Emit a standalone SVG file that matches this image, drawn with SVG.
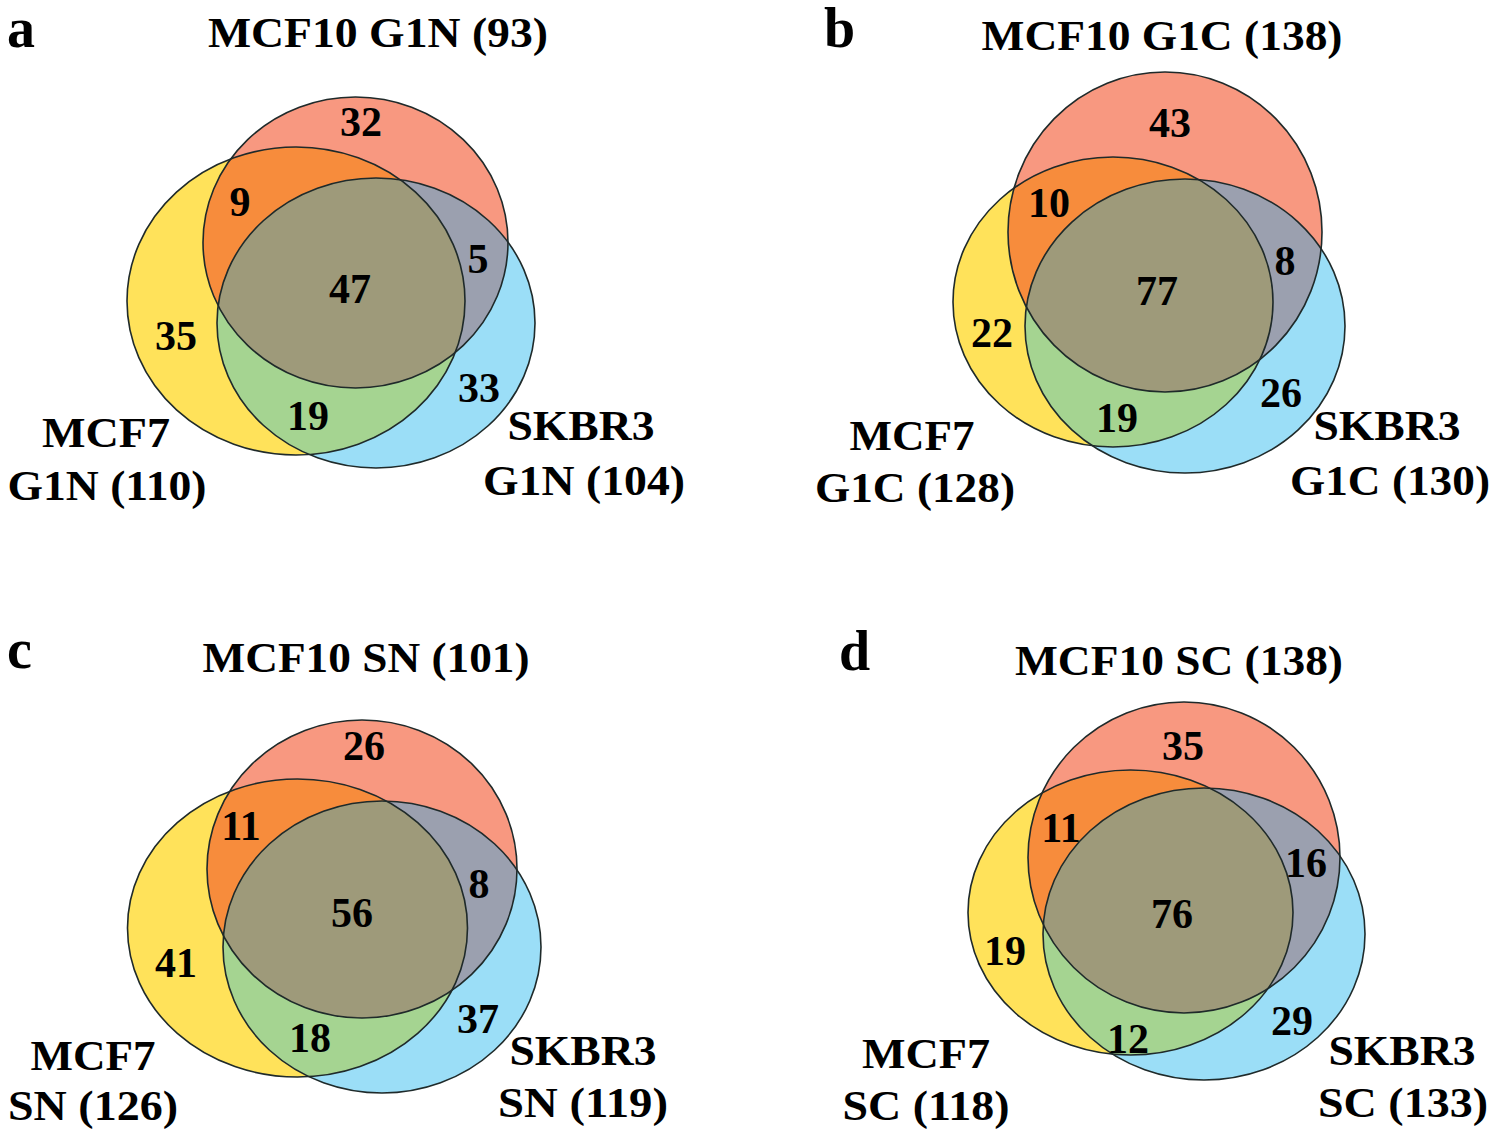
<svg xmlns="http://www.w3.org/2000/svg" width="1500" height="1142" viewBox="0 0 1500 1142">
<style>
.fy{fill:#FFE25A}.fr{fill:#F89880}.fb{fill:#9BDEF7}
.fo{fill:#F78C3C}.fg{fill:#A5D491}.fgr{fill:#9BA0AF}.fc{fill:#9E9A7A}
.ol{fill:none;stroke:#1f2a2a;stroke-width:1.6}
text{font-family:"Liberation Serif","Times New Roman",serif;font-weight:bold;fill:#000;text-anchor:middle}
.n{font-size:42px}.t{font-size:42px}.p{font-size:56px;text-anchor:start}
</style>
<defs>
<ellipse id="aR" cx="355.5" cy="242.5" rx="152.5" ry="145.5"/>
<ellipse id="aY" cx="296" cy="301" rx="169" ry="154"/>
<ellipse id="aB" cx="376" cy="323" rx="159" ry="145"/>
<ellipse id="bR" cx="1165" cy="232" rx="157" ry="160"/>
<ellipse id="bY" cx="1113" cy="302" rx="160" ry="145"/>
<ellipse id="bB" cx="1185" cy="326" rx="160" ry="147"/>
<ellipse id="cR" cx="362" cy="869" rx="155" ry="149"/>
<ellipse id="cY" cx="297.5" cy="928" rx="170" ry="149"/>
<ellipse id="cB" cx="382" cy="947" rx="159" ry="146"/>
<ellipse id="dR" cx="1184" cy="857.5" rx="156" ry="155.5"/>
<ellipse id="dY" cx="1130.5" cy="912.5" rx="162.5" ry="142.5"/>
<ellipse id="dB" cx="1204" cy="934" rx="161" ry="146"/>
<clipPath id="aCR"><use href="#aR"/></clipPath><clipPath id="aCB"><use href="#aB"/></clipPath>
<clipPath id="bCR"><use href="#bR"/></clipPath><clipPath id="bCB"><use href="#bB"/></clipPath>
<clipPath id="cCR"><use href="#cR"/></clipPath><clipPath id="cCB"><use href="#cB"/></clipPath>
<clipPath id="dCR"><use href="#dR"/></clipPath><clipPath id="dCB"><use href="#dB"/></clipPath>
</defs>
<rect width="1500" height="1142" fill="#fff"/>

<g id="panel-a">
<g id="a-circles">
<use href="#aY" class="fy"/><use href="#aR" class="fr"/><use href="#aB" class="fb"/>
<g clip-path="url(#aCR)"><use href="#aY" class="fo"/></g>
<g clip-path="url(#aCB)"><use href="#aY" class="fg"/></g>
<g clip-path="url(#aCB)"><use href="#aR" class="fgr"/></g>
<g clip-path="url(#aCB)"><g clip-path="url(#aCR)"><use href="#aY" class="fc"/></g></g>
<use href="#aY" class="ol"/><use href="#aR" class="ol"/><use href="#aB" class="ol"/>
</g>
<text class="p" x="7" y="47">a</text>
<text class="t" x="378" y="47" textLength="340" lengthAdjust="spacingAndGlyphs">MCF10 G1N (93)</text>
<text class="n" x="361" y="136">32</text>
<text class="n" x="240" y="216">9</text>
<text class="n" x="478" y="273">5</text>
<text class="n" x="350" y="303">47</text>
<text class="n" x="176" y="350">35</text>
<text class="n" x="308" y="430">19</text>
<text class="n" x="479" y="402">33</text>
<text class="t" x="106" y="447" textLength="128" lengthAdjust="spacingAndGlyphs">MCF7</text>
<text class="t" x="107" y="500" textLength="199" lengthAdjust="spacingAndGlyphs">G1N (110)</text>
<text class="t" x="581" y="440" textLength="147" lengthAdjust="spacingAndGlyphs">SKBR3</text>
<text class="t" x="584" y="495" textLength="202" lengthAdjust="spacingAndGlyphs">G1N (104)</text>
</g>

<g id="panel-b">
<g id="b-circles">
<use href="#bY" class="fy"/><use href="#bR" class="fr"/><use href="#bB" class="fb"/>
<g clip-path="url(#bCR)"><use href="#bY" class="fo"/></g>
<g clip-path="url(#bCB)"><use href="#bY" class="fg"/></g>
<g clip-path="url(#bCB)"><use href="#bR" class="fgr"/></g>
<g clip-path="url(#bCB)"><g clip-path="url(#bCR)"><use href="#bY" class="fc"/></g></g>
<use href="#bY" class="ol"/><use href="#bR" class="ol"/><use href="#bB" class="ol"/>
</g>
<text class="p" x="824" y="47">b</text>
<text class="t" x="1162" y="50" textLength="361" lengthAdjust="spacingAndGlyphs">MCF10 G1C (138)</text>
<text class="n" x="1170" y="137">43</text>
<text class="n" x="1049" y="217">10</text>
<text class="n" x="1285" y="275">8</text>
<text class="n" x="1157" y="305">77</text>
<text class="n" x="992" y="347">22</text>
<text class="n" x="1117" y="432">19</text>
<text class="n" x="1281" y="407">26</text>
<text class="t" x="912" y="450" textLength="125" lengthAdjust="spacingAndGlyphs">MCF7</text>
<text class="t" x="915" y="502" textLength="200" lengthAdjust="spacingAndGlyphs">G1C (128)</text>
<text class="t" x="1387" y="440" textLength="147" lengthAdjust="spacingAndGlyphs">SKBR3</text>
<text class="t" x="1390" y="495" textLength="200" lengthAdjust="spacingAndGlyphs">G1C (130)</text>
</g>

<g id="panel-c">
<g id="c-circles">
<use href="#cY" class="fy"/><use href="#cR" class="fr"/><use href="#cB" class="fb"/>
<g clip-path="url(#cCR)"><use href="#cY" class="fo"/></g>
<g clip-path="url(#cCB)"><use href="#cY" class="fg"/></g>
<g clip-path="url(#cCB)"><use href="#cR" class="fgr"/></g>
<g clip-path="url(#cCB)"><g clip-path="url(#cCR)"><use href="#cY" class="fc"/></g></g>
<use href="#cY" class="ol"/><use href="#cR" class="ol"/><use href="#cB" class="ol"/>
</g>
<text class="p" x="7" y="668">c</text>
<text class="t" x="366" y="672" textLength="327" lengthAdjust="spacingAndGlyphs">MCF10 SN (101)</text>
<text class="n" x="364" y="760">26</text>
<text class="n" x="241" y="840">11</text>
<text class="n" x="479" y="898">8</text>
<text class="n" x="352" y="927">56</text>
<text class="n" x="176" y="977">41</text>
<text class="n" x="310" y="1052">18</text>
<text class="n" x="478" y="1033">37</text>
<text class="t" x="93" y="1070" textLength="125" lengthAdjust="spacingAndGlyphs">MCF7</text>
<text class="t" x="93" y="1120" textLength="170" lengthAdjust="spacingAndGlyphs">SN (126)</text>
<text class="t" x="583" y="1065" textLength="147" lengthAdjust="spacingAndGlyphs">SKBR3</text>
<text class="t" x="583" y="1117" textLength="170" lengthAdjust="spacingAndGlyphs">SN (119)</text>
</g>

<g id="panel-d">
<g id="d-circles">
<use href="#dY" class="fy"/><use href="#dR" class="fr"/><use href="#dB" class="fb"/>
<g clip-path="url(#dCR)"><use href="#dY" class="fo"/></g>
<g clip-path="url(#dCB)"><use href="#dY" class="fg"/></g>
<g clip-path="url(#dCB)"><use href="#dR" class="fgr"/></g>
<g clip-path="url(#dCB)"><g clip-path="url(#dCR)"><use href="#dY" class="fc"/></g></g>
<use href="#dY" class="ol"/><use href="#dR" class="ol"/><use href="#dB" class="ol"/>
</g>
<text class="p" x="839" y="670">d</text>
<text class="t" x="1179" y="675" textLength="328" lengthAdjust="spacingAndGlyphs">MCF10 SC (138)</text>
<text class="n" x="1183" y="760">35</text>
<text class="n" x="1061" y="842">11</text>
<text class="n" x="1306" y="877">16</text>
<text class="n" x="1172" y="928">76</text>
<text class="n" x="1005" y="965">19</text>
<text class="n" x="1128" y="1053">12</text>
<text class="n" x="1292" y="1035">29</text>
<text class="t" x="926" y="1068" textLength="128" lengthAdjust="spacingAndGlyphs">MCF7</text>
<text class="t" x="926" y="1120" textLength="167" lengthAdjust="spacingAndGlyphs">SC (118)</text>
<text class="t" x="1402" y="1065" textLength="147" lengthAdjust="spacingAndGlyphs">SKBR3</text>
<text class="t" x="1403" y="1117" textLength="170" lengthAdjust="spacingAndGlyphs">SC (133)</text>
</g>
</svg>
